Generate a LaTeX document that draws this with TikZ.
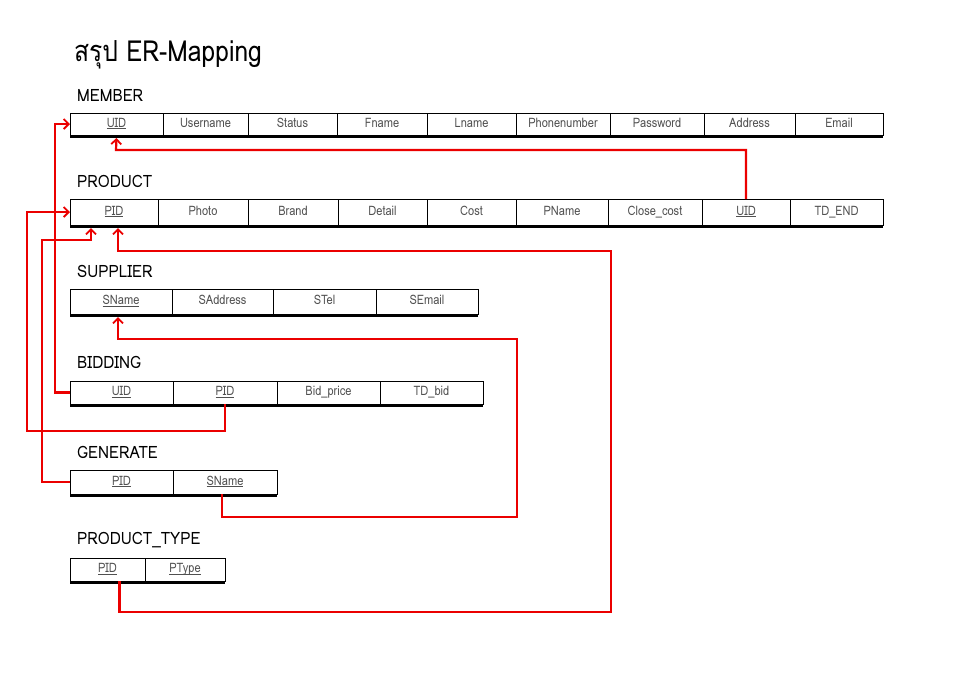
\documentclass[tikz,border=0pt]{standalone}
\usepackage{fontspec}
\setmainfont{Loma}
\newfontfamily\thaifont[Script=Thai,FakeStretch=0.85]{Loma}
\newfontfamily\titlefont[FakeStretch=0.85]{Loma}
\newfontfamily\labelfont[FakeStretch=0.9]{Loma}
\newfontfamily\cellfont[FakeStretch=0.85]{Loma}
\usetikzlibrary{arrows.meta,calc}
\definecolor{fkred}{RGB}{235,0,0}
\definecolor{celltext}{RGB}{80,80,80}
\newcommand\keyattr[1]{\underline{\smash{#1}\vphantom{A}}}
\tikzset{
  cell/.style={draw=black, line width=1pt, inner sep=0pt, outer sep=0pt,
    text height=9pt, text depth=3pt,
    anchor=north west, font=\cellfont\fontsize{13}{13}\selectfont, text=celltext},
  tlabel/.style={anchor=west, inner sep=0pt, font=\labelfont\fontsize{17}{17}\selectfont},
  thickbar/.style={line width=3pt, black},
  fk/.style={draw=fkred, line width=2.2pt, line join=miter,
    -{Straight Barb[length=5pt,width=10pt,line width=1.8pt]}}
}
\begin{document}
\begin{tikzpicture}[x=1pt,y=-1pt]
\useasboundingbox[fill=white] (0,0) rectangle (960,678);

% title
\node[anchor=west, inner sep=0pt, font=\titlefont\fontsize{29}{29}\selectfont] (title) at (74,55) {{\thaifont สรุป} ER-Mapping};

% MEMBER
\node[tlabel] (lmember) at (77,95) {MEMBER};
\begin{scope}[every node/.append style={minimum height=22}]
\node[cell,minimum width=93] (m1) at (70,113) {\keyattr{UID}};
\node[cell,minimum width=85] (m2) at (m1.north east) {Username};
\node[cell,minimum width=89] (m3) at (m2.north east) {Status};
\node[cell,minimum width=90] (m4) at (m3.north east) {Fname};
\node[cell,minimum width=89] (m5) at (m4.north east) {Lname};
\node[cell,minimum width=94] (m6) at (m5.north east) {Phonenumber};
\node[cell,minimum width=94] (m7) at (m6.north east) {Password};
\node[cell,minimum width=91] (m8) at (m7.north east) {Address};
\node[cell,minimum width=88] (m9) at (m8.north east) {Email};
\end{scope}
\draw[thickbar] ($(m1.south west)+(0,1)$) -- ($(m9.south east)+(0,1)$);

% PRODUCT
\node[tlabel] (lproduct) at (77,181) {PRODUCT};
\begin{scope}[every node/.append style={minimum height=26}]
\node[cell,minimum width=88] (p1) at (70,199) {\keyattr{PID}};
\node[cell,minimum width=90] (p2) at (p1.north east) {Photo};
\node[cell,minimum width=90] (p3) at (p2.north east) {Brand};
\node[cell,minimum width=89] (p4) at (p3.north east) {Detail};
\node[cell,minimum width=89] (p5) at (p4.north east) {Cost};
\node[cell,minimum width=92] (p6) at (p5.north east) {PName};
\node[cell,minimum width=94] (p7) at (p6.north east) {Close\_cost};
\node[cell,minimum width=88] (p8) at (p7.north east) {\keyattr{UID}};
\node[cell,minimum width=93] (p9) at (p8.north east) {TD\_END};
\end{scope}
\draw[thickbar] ($(p1.south west)+(0,1)$) -- ($(p9.south east)+(0,1)$);

% SUPPLIER
\node[tlabel] (lsupplier) at (77,271) {SUPPLIER};
\begin{scope}[every node/.append style={minimum height=25}]
\node[cell,minimum width=102] (s1) at (70,289) {\keyattr{SName}};
\node[cell,minimum width=101] (s2) at (s1.north east) {SAddress};
\node[cell,minimum width=103] (s3) at (s2.north east) {STel};
\node[cell,minimum width=102] (s4) at (s3.north east) {SEmail};
\end{scope}
\draw[thickbar] ($(s1.south west)+(0,1)$) -- ($(s4.south east)+(0,1)$);

% BIDDING
\node[tlabel] (lbidding) at (77,362) {BIDDING};
\begin{scope}[every node/.append style={minimum height=23}]
\node[cell,minimum width=103] (b1) at (70,381) {\keyattr{UID}};
\node[cell,minimum width=104] (b2) at (b1.north east) {\keyattr{PID}};
\node[cell,minimum width=103] (b3) at (b2.north east) {Bid\_price};
\node[cell,minimum width=103] (b4) at (b3.north east) {TD\_bid};
\end{scope}
\draw[thickbar] ($(b1.south west)+(0,1)$) -- ($(b4.south east)+(0,1)$);

% GENERATE
\node[tlabel] (lgenerate) at (77,452) {GENERATE};
\begin{scope}[every node/.append style={minimum height=24}]
\node[cell,minimum width=103] (g1) at (70,470) {\keyattr{PID}};
\node[cell,minimum width=104] (g2) at (g1.north east) {\keyattr{SName}};
\end{scope}
\draw[thickbar] ($(g1.south west)+(0,1)$) -- ($(g2.south east)+(0,1)$);

% PRODUCT_TYPE
\node[tlabel] (lptype) at (77,540) {PRODUCT\_TYPE};
\begin{scope}[every node/.append style={minimum height=23}]
\node[cell,minimum width=75] (t1) at (70,558) {\keyattr{PID}};
\node[cell,minimum width=80] (t2) at (t1.north east) {\keyattr{PType}};
\end{scope}
\draw[thickbar] ($(t1.south west)+(0,1)$) -- ($(t2.south east)+(0,1)$);

% connectors
\draw[fk] (p8.north) |- (116,150) -- ($(m1.south)+(0,3)$);
\draw[fk] (b1.west) -- ++(-15,0) |- (m1.west);
\draw[fk] (b2.south) |- (27,431) |- (p1.west);
\draw[fk] (g1.west) -- ++(-28,0) |- (91,240) -- ($(p1.south)+(-23,3)$);
\draw[fk] ($(t1.south)+(12,0)$) |- (611,612) |- (118,251) -- ($(p1.south)+(4,3)$);
\draw[fk] ($(g2.south)+(-3,0)$) |- (517,517) |- (118,339) -- ($(s1.south)+(-3,3)$);
\end{tikzpicture}
\end{document}
